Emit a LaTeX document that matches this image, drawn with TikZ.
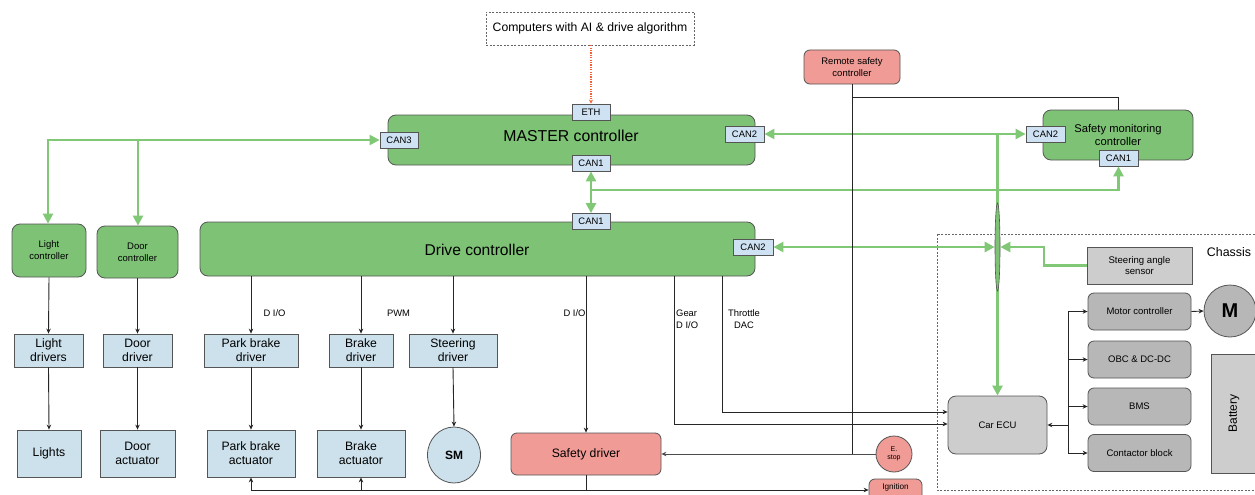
\documentclass[tikz,border=0pt]{standalone}
\usepackage{fontspec}
\setmainfont{Liberation Sans}
\usetikzlibrary{arrows.meta,shapes.geometric,calc}
\definecolor{gfill}{RGB}{125,194,117}
\definecolor{gline}{RGB}{128,200,118}
\definecolor{portc}{RGB}{207,226,243}
\definecolor{drvc}{RGB}{205,225,236}
\definecolor{redc}{RGB}{240,155,149}
\definecolor{edgec}{RGB}{85,85,85}
\definecolor{gry1}{RGB}{205,205,205}
\definecolor{gry2}{RGB}{183,183,183}
\definecolor{dotred}{RGB}{245,95,50}
\begin{document}
\begin{tikzpicture}[x=1pt,y=-1pt,
  base/.style={draw=edgec, line width=0.8pt, inner sep=1pt, align=center, text=black},
  gbox/.style={base, fill=gfill, rounded corners=8pt},
  port/.style={base, fill=portc, font=\fontsize{9.4}{11}\selectfont, minimum height=16pt, minimum width=38pt},
  drv/.style={base, fill=drvc, font=\fontsize{12.2}{14}\selectfont},
  rbox/.style={base, fill=redc, rounded corners=6pt},
  gbx/.style={base, fill=gry2, rounded corners=6pt, font=\fontsize{9.5}{11.5}\selectfont},
  arr/.style={draw=black!85, line width=0.9pt, -{Stealth[length=5pt,width=4.5pt]}},
  ln/.style={draw=black!85, line width=0.9pt},
  garr/.style={draw=gline, line width=2.4pt, -{Triangle[length=10pt,width=10pt]}},
  gboth/.style={draw=gline, line width=2.4pt, {Triangle[length=10pt,width=10pt]}-{Triangle[length=10pt,width=10pt]}},
  lbl/.style={font=\fontsize{9.4}{12}\selectfont, inner sep=0pt, align=center},
]
\useasboundingbox (0,0) rectangle (1255,495);
\clip (0,0) rectangle (1255,495);
\fill[white] (0,0) rectangle (1255,495);

% chassis
\draw[dashed, draw=black!60, line width=0.6pt, dash pattern=on 2pt off 1.5pt] (937,234) rectangle (1265,490);
\node[font=\fontsize{12.4}{14}\selectfont] (chassis) at (1229,252) {Chassis};

% top
\node[base, draw=black!60, dash pattern=on 2pt off 1.5pt, line width=0.6pt, minimum width=208pt, minimum height=33pt, font=\fontsize{12.2}{14}\selectfont] (comp) at (590,28.5) {Computers with AI \& drive algorithm};

\node[gbox, minimum width=367pt, minimum height=50pt] (master) at (571.5,140) {};
\node[font=\fontsize{15.8}{18}\selectfont, inner sep=0pt] (mastert) at (571,136) {MASTER controller};
\node[port] (eth) at (591,112) {ETH};
\node[port] (can3m) at (399,140) {CAN3};
\node[port, minimum width=39pt] (can2m) at (744.5,134) {CAN2};
\node[port] (can1m) at (591,163) {CAN1};

\node[gbox, minimum width=150pt, minimum height=50pt, font=\fontsize{11.2}{14.5}\selectfont] (smc) at (1118,135) {Safety monitoring\\[-1pt]controller};
\node[port, minimum width=39pt] (can2s) at (1045.5,134) {CAN2};
\node[port, minimum width=39pt] (can1s) at (1118.5,158) {CAN1};

\node[rbox, minimum width=96pt, minimum height=34pt, font=\fontsize{9.5}{11.5}\selectfont] (remote) at (852,67) {Remote safety\\controller};

% drive
\node[gbox, minimum width=555pt, minimum height=54pt] (drive) at (477.5,249) {};
\node[font=\fontsize{15.6}{18}\selectfont, inner sep=0pt] (drivet) at (477,250) {Drive controller};
\node[port] (can1d) at (591,221.5) {CAN1};
\node[port, minimum width=40pt] (can2d) at (753,247) {CAN2};

% left controllers
\node[gbox, minimum width=74pt, minimum height=53pt, font=\fontsize{9.5}{12}\selectfont] (lightc) at (49,250.5) {Light\\controller};
\node[gbox, minimum width=81pt, minimum height=52pt, font=\fontsize{9.5}{12}\selectfont] (doorc) at (137.5,252) {Door\\controller};

% drivers
\node[drv, minimum width=69pt, minimum height=33pt] (lightd) at (48.5,350.5) {Light\\drivers};
\node[drv, minimum width=69pt, minimum height=33pt] (doord) at (137.5,350.5) {Door\\driver};
\node[drv, minimum width=94pt, minimum height=33pt] (pbd) at (251,350.5) {Park brake\\driver};
\node[drv, minimum width=64pt, minimum height=33pt] (bd) at (361,350.5) {Brake\\driver};
\node[drv, minimum width=88pt, minimum height=33pt] (sd) at (453,350.5) {Steering\\driver};

% actuators
\node[drv, minimum width=64pt, minimum height=47pt] (lights) at (49,453.5) {Lights};
\node[drv, minimum width=75pt, minimum height=47pt] (dooract) at (137.5,453.5) {Door\\actuator};
\node[drv, minimum width=88pt, minimum height=47pt] (pba) at (251,453.5) {Park brake\\actuator};
\node[drv, minimum width=88pt, minimum height=47pt] (ba) at (361,453.5) {Brake\\actuator};
\node[base, fill=drvc, ellipse, minimum width=53pt, minimum height=56pt, inner sep=0pt, font=\bfseries\fontsize{12}{14}\selectfont] (sm) at (454,455) {SM};

\node[rbox, minimum width=150pt, minimum height=42pt, font=\fontsize{12.2}{14}\selectfont] (safetyd) at (586,454) {Safety driver};
\node[base, fill=redc, circle, minimum size=36pt, inner sep=0pt, font=\fontsize{7}{8.5}\selectfont] (estop) at (894,454) {E.\\stop};
\node[rbox, minimum width=53pt, minimum height=34pt] (ign) at (895.5,496) {};
\node[font=\fontsize{8.2}{10}\selectfont, inner sep=0pt] (ignt) at (895.5,487.5) {Ignition};

% chassis contents
\node[base, fill=gry1, minimum width=105pt, minimum height=37pt, font=\fontsize{9.6}{11.5}\selectfont] (sas) at (1139.5,265.5) {Steering angle\\sensor};
\node[gbx, minimum width=103pt, minimum height=37pt] (mc) at (1139.5,311.5) {Motor controller};
\node[gbx, minimum width=103pt, minimum height=37pt] (obc) at (1139.5,359.5) {OBC \& DC-DC};
\node[gbx, minimum width=103pt, minimum height=37pt] (bms) at (1139.5,406.5) {BMS};
\node[gbx, minimum width=103pt, minimum height=37pt] (cb) at (1139.5,453) {Contactor block};
\node[base, fill=gry2, circle, minimum size=52pt, inner sep=0pt, font=\bfseries\fontsize{20}{22}\selectfont] (motor) at (1230,311) {M};
\node[base, fill=gry1, minimum width=60pt, minimum height=119pt, anchor=north west] (battery) at (1211,354) {};
\node[rotate=90, font=\fontsize{12}{14}\selectfont, inner sep=0pt] (batt) at (1234,413.5) {Battery};
\node[base, fill=gry1, rounded corners=8pt, minimum width=99pt, minimum height=58pt, font=\fontsize{9.5}{11.5}\selectfont] (carecu) at (997.5,425) {Car ECU};

% AI link
\draw[draw=dotred, line width=1.3pt, dash pattern=on 1.2pt off 1.2pt, -{Stealth[length=4pt,width=4pt]}] (comp.south -| eth.north) -- (eth.north);

% green CAN links
\coordinate (jl) at (48,140);
\coordinate (jd) at (138,140);
\draw[gboth] (lightc.north -| jl) -- (jl) -- (can3m.west);
\draw[garr] (jd) -- (doorc.north -| jd);
\draw[gboth] (can2m.east) -- (can2s.west);
\coordinate (jv) at (997.5,134);
\draw[garr] (jv) -- (carecu.north);
\draw[gboth] (can1m.south) -- (can1d.north);
\coordinate (h1) at (591,190);
\coordinate (h2) at (1118.5,190);
\draw[garr] (h1) -- (h2) -- (can1s.south);
\node[draw=edgec, fill=gfill, ellipse, line width=0.6pt, minimum width=5pt, minimum height=88pt, inner sep=0pt] (lens) at (997.5,247) {};
\draw[gboth] (can2d.east) -- (lens.west);
\coordinate (s1) at (1044,265.5);
\coordinate (s2) at (1044,247);
\draw[garr] (sas.west) -- (s1) -- (s2) -- (lens.east);

% remote safety lines
\coordinate (r1) at (852,97.5);
\coordinate (r2) at (852,454);
\draw[ln] (remote.south) -- (r2);
\draw[ln] (r1) -- (r1 -| smc.north) -- (smc.north);
\draw[arr, draw=black!70] (estop.west) -- (safetyd.east);

% left chains
\draw[arr] (lightc.south) -- (lightd.north);
\draw[arr] (lightd.south) -- (lights.north);
\draw[arr] (doorc.south) -- (doord.north);
\draw[arr] (doord.south) -- (dooract.north);

% drive outputs
\draw[arr] (drive.south -| pbd.north) -- (pbd.north);
\draw[arr] (pbd.south) -- (pba.north);
\draw[arr] (drive.south -| bd.north) -- (bd.north);
\draw[arr] (bd.south) -- (ba.north);
\draw[arr] (drive.south -| sd.north) -- (sd.north);
\draw[arr] (sd.south) -- (sm.north);
\draw[arr] (drive.south -| safetyd.north) -- (safetyd.north);
\coordinate (g0) at (674,276);
\coordinate (g1) at (674,424);
\draw[arr] (g0) -- (g1) -- (carecu.west |- g1);
\coordinate (t0) at (722,276);
\coordinate (t1) at (722,412);
\draw[arr] (t0) -- (t1) -- (carecu.west |- t1);

\node[lbl] (l1) at (274.5,313) {D I/O};
\node[lbl] (l2) at (398.5,313) {PWM};
\node[lbl] (l3) at (574.5,313) {D I/O};
\node[lbl, align=left, anchor=west] (l4) at (676,319) {Gear\\D I/O};
\node[lbl] (l5) at (744,319) {Throttle\\DAC};

% bottom bus
\coordinate (b0) at (586,490);
\coordinate (bl) at (251,490);
\coordinate (bb) at (361,490);
\draw[ln] (safetyd.south) -- (b0);
\draw[arr] (b0) -- (b0 -| ign.west);
\draw[arr] (b0) -- (bl) -- (pba.south);
\draw[arr] (bb) -- (ba.south);

% car ECU bus
\coordinate (e0) at (1068,425);
\coordinate (et) at (1068,311.5);
\coordinate (eb) at (1068,453);
\draw[arr] (e0) -- (carecu.east);
\draw[ln] (et) -- (eb);
\draw[arr] (et) -- (mc.west);
\draw[arr] (obc.west -| et) -- (obc.west);
\draw[arr] (bms.west -| et) -- (bms.west);
\draw[arr] (eb) -- (cb.west);
\draw[arr] (mc.east) -- (motor.west);
\end{tikzpicture}
\end{document}
